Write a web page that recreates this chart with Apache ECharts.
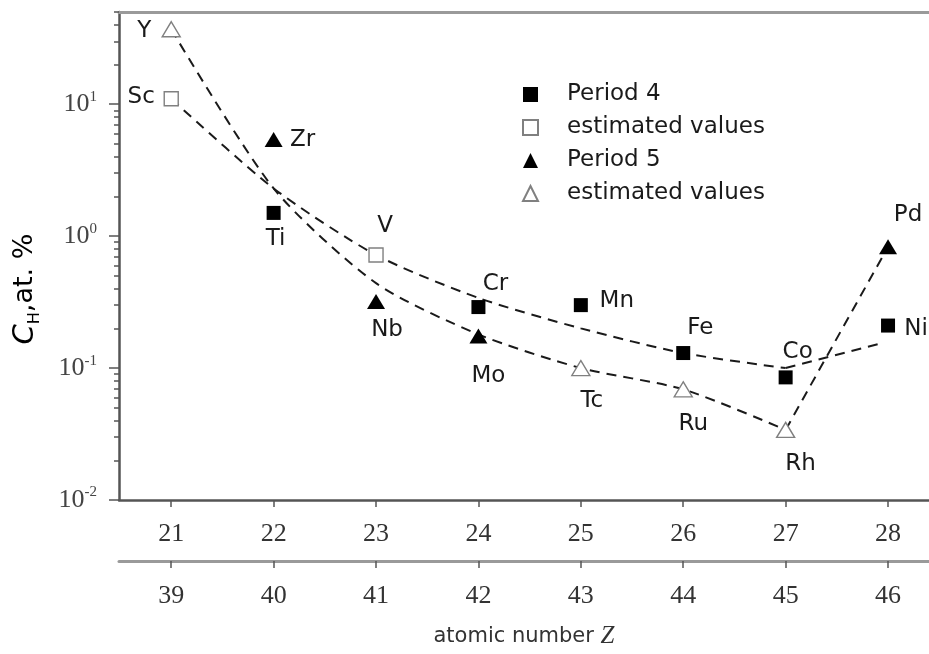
<!DOCTYPE html>
<html>
<head>
<meta charset="utf-8">
<script src="https://cdn.jsdelivr.net/npm/echarts@6/dist/echarts.min.js"></script>
<style>
  html, body { margin: 0; padding: 0; background: #ffffff; overflow: hidden; }
  #chart { position: absolute; left: 0; top: 0; width: 929px; height: 654px; }
</style>
</head>
<body>
<div id="chart"></div>
<script>
// Columns of the two periods (same column = same group of the periodic table)
const period4Z = [21, 22, 23, 24, 25, 26, 27, 28];
const period5Z = [39, 40, 41, 42, 43, 44, 45, 46];

// Hydrogen solubility C_H, at. %
const period4Elements = ['Sc', 'Ti', 'V', 'Cr', 'Mn', 'Fe', 'Co', 'Ni'];
const period4Values = [11, 1.5, 0.72, 0.29, 0.30, 0.13, 0.085, 0.21];
const period4Estimated = [true, false, true, false, false, false, false, false];

const period5Elements = ['Y', 'Zr', 'Nb', 'Mo', 'Tc', 'Ru', 'Rh', 'Pd'];
const period5Values = [37, 5.4, 0.32, 0.175, 0.10, 0.069, 0.034, 0.83];
const period5Estimated = [true, false, false, false, true, true, true, false];

// Dashed guide curves
const period4TrendZ = [21, 22, 23, 24, 25, 26, 27];
const period4Trend = [11, 2.3, 0.72, 0.34, 0.2, 0.13, 0.1];
const period4TailZ = [27, 27.95];
const period4Tail = [0.1, 0.155];
const period5TrendZ = [39, 40, 41, 42, 43, 44, 45];
const period5Trend = [37, 2.3, 0.44, 0.18, 0.1, 0.069, 0.034];
const period5TailZ = [45, 46];
const period5Tail = [0.034, 0.83];

// Y axis ticks
const yMajorTicks = [0.01, 0.1, 1, 10];
const yMinorTicks = [0.02, 0.03, 0.04, 0.05, 0.06, 0.07, 0.08, 0.09,
                     0.2, 0.3, 0.4, 0.5, 0.6, 0.7, 0.8, 0.9,
                     2, 3, 4, 5, 6, 7, 8, 9,
                     20, 30, 40, 50];

// Legend texts
const legendNames = {
  'p4': 'Period 4', 'p4e': 'estimated values',
  'p5': 'Period 5', 'p5e': 'estimated values'
};

// Where each element symbol sits relative to its marker
const labelOffset = {
  Sc: [-30, -2], Y: [-27, 2], Ti: [2, 26], Zr: [29, 1], V: [9, -29], Nb: [11, 29],
  Cr: [17, -23], Mo: [10, 40], Mn: [36, -4], Tc: [11, 33], Fe: [17, -25], Ru: [10, 35],
  Co: [12, -25], Rh: [15, 34], Pd: [20, -32], Ni: [28, 3]
};

const SANS = 'DejaVu Sans';
const SERIF = 'Liberation Serif';
const INK = '#1a1a1a';

function pointsOf(zs, values, names, flags, wantEstimated) {
  const out = [];
  for (let i = 0; i < zs.length; i++) {
    if (flags[i] !== wantEstimated) continue;
    out.push({
      name: names[i],
      value: [zs[i], values[i]],
      label: { offset: labelOffset[names[i]] }
    });
  }
  return out;
}

const labelStyle = {
  show: true,
  position: 'inside',
  formatter: p => p.name,
  color: INK,
  fontFamily: SANS,
  fontSize: 23,
  align: 'center',
  verticalAlign: 'middle'
};

const filled = { color: '#000000', opacity: 1 };
const hollow = { color: '#ffffff', borderColor: '#808080', borderWidth: 1.4, opacity: 1 };

const dashed = { color: '#1a1a1a', width: 2, type: [10, 7] };

function trendSeries(xAxisIndex, zs, vs, smooth) {
  return {
    type: 'line',
    xAxisIndex: xAxisIndex,
    data: zs.map((z, i) => [z, vs[i]]),
    symbol: 'none',
    smooth: smooth,
    silent: true,
    z: 1,
    lineStyle: dashed
  };
}

const chart = echarts.init(document.getElementById('chart'), null, { renderer: 'canvas' });

chart.setOption({
  animation: false,
  backgroundColor: '#ffffff',
  grid: { left: 119, right: 0, top: 12, bottom: 154 },
  legend: {
    orient: 'vertical',
    left: 517,
    top: 78,
    itemWidth: 15,
    itemHeight: 15,
    itemGap: 10,
    data: ['p4', 'p4e', 'p5', 'p5e'],
    formatter: n => legendNames[n],
    textStyle: { color: INK, fontFamily: SANS, fontSize: 23, padding: [0, 0, 0, 24] }
  },
  xAxis: [
    {
      type: 'value', min: 20.49, max: 28.4, position: 'bottom',
      axisLine: { show: true, lineStyle: { color: '#555555', width: 2.5 } },
      axisTick: { show: true, customValues: period4Z, length: 7, lineStyle: { color: '#555555', width: 1.5 } },
      axisLabel: { customValues: period4Z, margin: 21, color: '#333333', fontFamily: SERIF, fontSize: 26 },
      splitLine: { show: false }
    },
    {
      type: 'value', min: 38.49, max: 46.4, position: 'bottom', offset: 61,
      axisLine: { show: true, lineStyle: { color: '#9a9a9a', width: 3 } },
      axisTick: { show: true, customValues: period5Z, length: 7, lineStyle: { color: '#555555', width: 1.5 } },
      axisLabel: { customValues: period5Z, margin: 22, color: '#333333', fontFamily: SERIF, fontSize: 26 },
      splitLine: { show: false },
      name: '{t|atomic number }{z|Z}',
      nameLocation: 'middle',
      nameGap: 63,
      nameTextStyle: {
        rich: {
          t: { fontFamily: SANS, fontSize: 21, color: '#333333' },
          z: { fontFamily: SERIF, fontStyle: 'italic', fontSize: 25, color: '#333333' }
        }
      }
    },
    {
      type: 'value', min: 20.49, max: 28.4, position: 'top',
      axisLine: { show: true, lineStyle: { color: '#9a9a9a', width: 3 } },
      axisTick: { show: false }, axisLabel: { show: false }, splitLine: { show: false }
    }
  ],
  yAxis: [
    {
      type: 'log', logBase: 10, min: 0.01, max: 50,
      axisLine: { show: true, lineStyle: { color: '#555555', width: 2.5 } },
      axisTick: { show: true, customValues: yMajorTicks, length: 10, lineStyle: { color: '#555555', width: 1.5 } },
      axisLabel: {
        customValues: yMajorTicks,
        margin: 22,
        formatter: v => '{b|10}{e|' + Math.round(Math.log10(v)) + '}',
        rich: {
          b: { fontFamily: SERIF, fontSize: 26, color: '#444444', lineHeight: 30 },
          e: { fontFamily: SERIF, fontSize: 15, color: '#444444', lineHeight: 30, verticalAlign: 'top' }
        }
      },
      splitLine: { show: false }
    },
    {
      type: 'log', logBase: 10, min: 0.01, max: 50, position: 'left', offset: 0,
      axisLine: { show: false },
      axisTick: { show: true, customValues: yMinorTicks, length: 5, lineStyle: { color: '#555555', width: 1.5 } },
      axisLabel: { show: false },
      splitLine: { show: false }
    }
  ],
  graphic: [
    {
      type: 'text',
      x: 25, y: 289,
      rotation: Math.PI / 2,
      style: {
        text: '{c|C}{s|H}{t|,at. %}',
        align: 'center',
        verticalAlign: 'middle',
        rich: {
          c: { fontFamily: SANS, fontStyle: 'italic', fontSize: 29, color: '#333333', lineHeight: 36 },
          s: { fontFamily: SANS, fontSize: 16, color: '#333333', lineHeight: 36, verticalAlign: 'bottom' },
          t: { fontFamily: SANS, fontSize: 27, color: '#333333', lineHeight: 36 }
        }
      }
    }
  ],
  series: [
    trendSeries(0, period4TrendZ, period4Trend, 0.25),
    trendSeries(0, period4TailZ, period4Tail, false),
    trendSeries(1, period5TrendZ, period5Trend, 0.25),
    trendSeries(1, period5TailZ, period5Tail, false),
    {
      name: 'p4', type: 'scatter', xAxisIndex: 0, z: 3,
      symbol: 'rect', symbolSize: 14, itemStyle: filled, label: labelStyle,
      data: pointsOf(period4Z, period4Values, period4Elements, period4Estimated, false)
    },
    {
      name: 'p4e', type: 'scatter', xAxisIndex: 0, z: 3,
      symbol: 'rect', symbolSize: 14, itemStyle: hollow, label: labelStyle,
      data: pointsOf(period4Z, period4Values, period4Elements, period4Estimated, true)
    },
    {
      name: 'p5', type: 'scatter', xAxisIndex: 1, z: 3,
      symbol: 'triangle', symbolSize: [18, 15], itemStyle: filled, label: labelStyle,
      data: pointsOf(period5Z, period5Values, period5Elements, period5Estimated, false)
    },
    {
      name: 'p5e', type: 'scatter', xAxisIndex: 1, z: 3,
      symbol: 'triangle', symbolSize: [18, 15], itemStyle: hollow, label: labelStyle,
      data: pointsOf(period5Z, period5Values, period5Elements, period5Estimated, true)
    }
  ]
});
</script>
</body>
</html>
